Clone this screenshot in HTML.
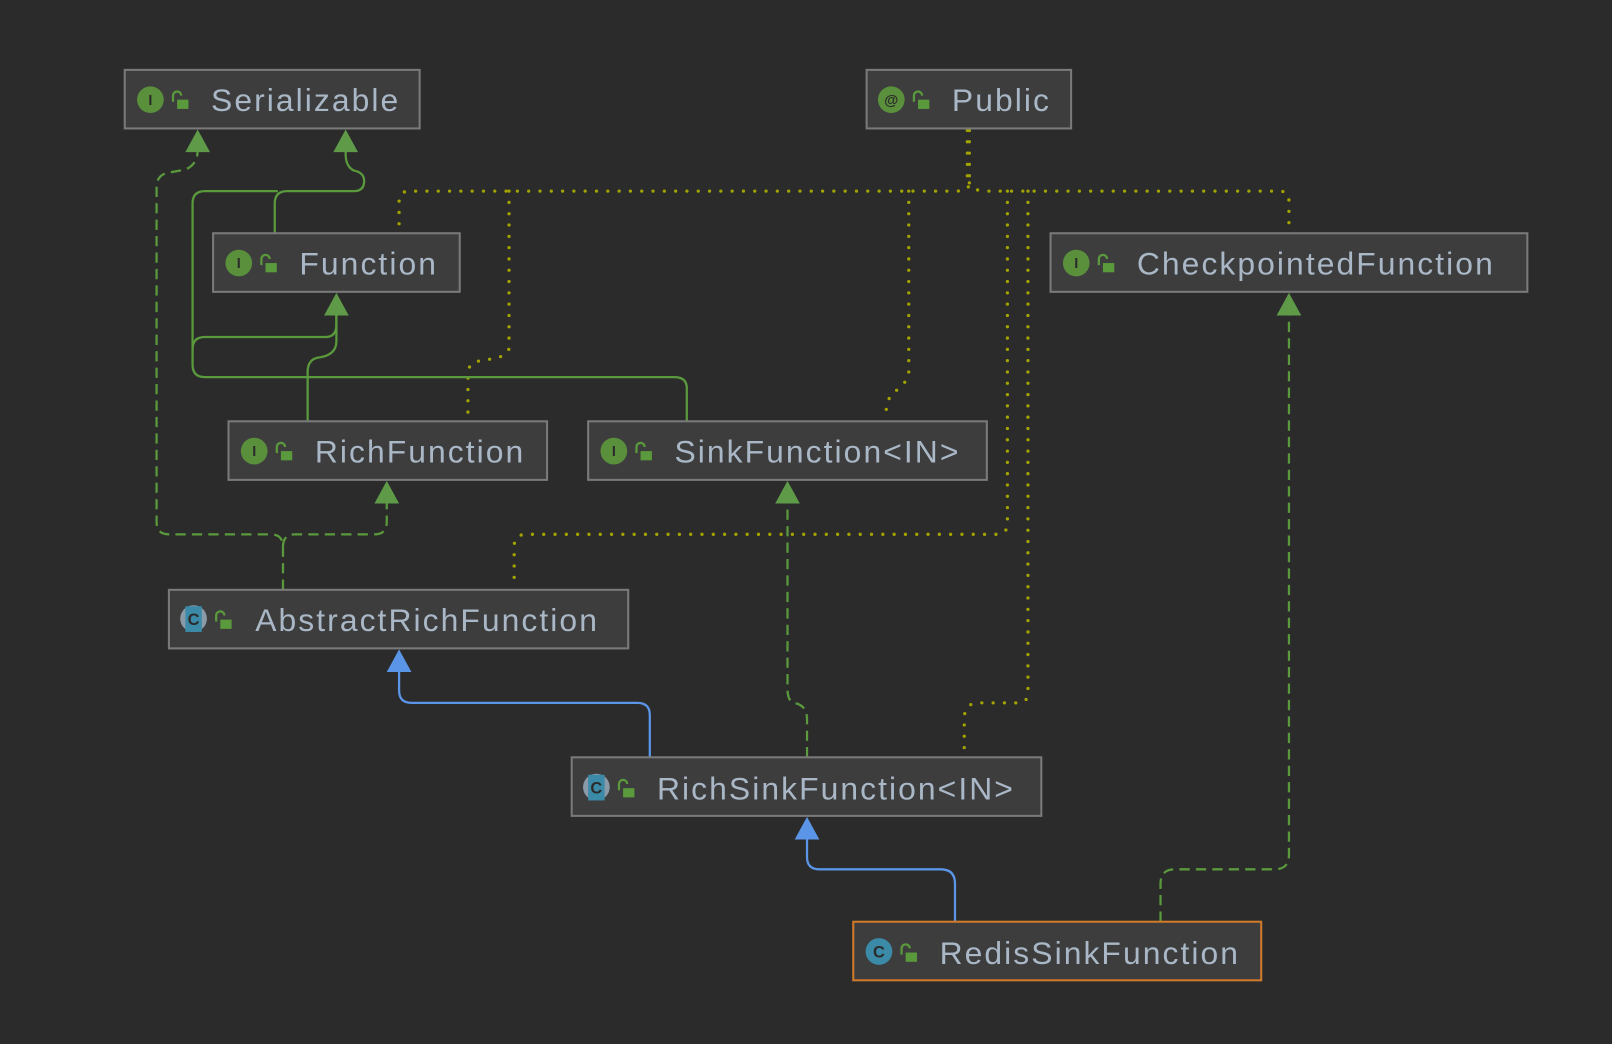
<!DOCTYPE html>
<html><head><meta charset="utf-8"><style>
html,body{margin:0;padding:0;background:#2b2b2b;}
svg{display:block}
text{font-family:"Liberation Sans",sans-serif;}
.lbl text{letter-spacing:2px}
</style></head><body>
<svg width="1612" height="1044" viewBox="0 0 1568 1016" xmlns="http://www.w3.org/2000/svg">
<rect width="1568" height="1016" fill="#2b2b2b"/>
<defs>
<g id="lock"><path d="M-6,2 v-6 a4,4 0 0 1 8,0" fill="none" stroke="#5a9a3c" stroke-width="2.2"/><rect x="-2" y="0" width="11" height="9" fill="#5a9a3c"/></g>
</defs>
<g fill="none" stroke="#a3a300" stroke-width="3.2" stroke-linecap="round" stroke-dasharray="0 11">
<path d="M943,127 V178 Q943,186 930,186 H398 Q388,186 388,196 V218"/>
<path d="M941,127 V178"/>
<path d="M943,178 Q946,186 960,186 H1245 Q1254,186 1254,196 V218"/>
<path d="M495,186 V338 Q495,346 480,349 L462,352 Q455,355 455,365 V402"/>
<path d="M884,186 V362 Q884,370 874,378 L866,386 Q862,392 862,402"/>
<path d="M980,186 V510 Q980,520 968,520 H512 Q500,520 500,532 V566"/>
<path d="M1000,186 V674 Q1000,684 990,684 H952 Q938,684 938,700 V728"/>
</g>
<g fill="none" stroke="#5a9a3c" stroke-width="2.2">
<path d="M267,227 V198 Q267,186 279,186 H344 Q354,186 354,176 Q354,168 344,166 Q336,162 336,150 V146"/>
<path d="M668,410 V378 Q668,367 656,367 H199 Q187,367 187,355 V198 Q187,186 199,186 H270"/>
<path d="M187,340 Q187,328 199,328 H316 Q327,328 327,316 V305"/>
<path d="M299,410 V362 Q299,350 309,348 Q327,346 327,332 V305"/>
</g>
<g fill="none" stroke="#5a9a3c" stroke-width="2.2" stroke-dasharray="10 6">
<path d="M275,574 V532 Q275,520 263,520 H164 Q152,520 152,508 V182 Q152,170 164,168 L180,165 Q192,160 192,146"/>
<path d="M275,532 Q275,520 287,520 H364 Q376,520 376,508 V488"/>
<path d="M785,737 V700 Q785,686 772,684 Q766,682 766,670 V488"/>
<path d="M1129,897 V860 Q1129,846 1143,846 H1240 Q1254,846 1254,832 V305"/>
</g>
<g fill="none" stroke="#5a95e8" stroke-width="2.2">
<path d="M632,737 V696 Q632,684 620,684 H400 Q388,684 388,672 V652"/>
<path d="M929,897 V860 Q929,846 915,846 H797 Q785,846 785,834 V815"/>
</g>
<g fill="#5f9a48">
<polygon points="192,126 180,148 204,148"/>
<polygon points="336,126 324,148 348,148"/>
<polygon points="327,285 315,307 339,307"/>
<polygon points="376,468 364,490 388,490"/>
<polygon points="766,468 754,490 778,490"/>
<polygon points="1254,285 1242,307 1266,307"/>
</g>
<g fill="#5a95e8">
<polygon points="388,632 376,654 400,654"/>
<polygon points="785,795 773,817 797,817"/>
</g>
<g font-size="31" fill="#a9b7c6">
<g stroke="#7a7a7a" stroke-width="2" fill="#3d3d3d">
<rect x="121" y="68" width="287" height="57"/>
<rect x="843" y="68" width="199" height="57"/>
<rect x="207" y="227" width="240" height="57"/>
<rect x="1022" y="227" width="464" height="57"/>
<rect x="222" y="410" width="310" height="57"/>
<rect x="572" y="410" width="388" height="57"/>
<rect x="164" y="574" width="447" height="57"/>
<rect x="556" y="737" width="457" height="57"/>
<rect x="830" y="897" width="397" height="57" stroke="#d07a2c"/>
</g>
<g font-size="14" font-weight="bold" text-anchor="middle">
<circle cx="146" cy="97" r="13" fill="#5a8f3c"/><text x="146" y="102" fill="#2b2b2b" font-family="Liberation Serif">I</text>
<circle cx="867" cy="97" r="13" fill="#5a8f3c"/><text x="867" y="102" fill="#2b2b2b">@</text>
<circle cx="232" cy="256" r="13" fill="#5a8f3c"/><text x="232" y="261" fill="#2b2b2b" font-family="Liberation Serif">I</text>
<circle cx="1047" cy="256" r="13" fill="#5a8f3c"/><text x="1047" y="261" fill="#2b2b2b" font-family="Liberation Serif">I</text>
<circle cx="247" cy="439" r="13" fill="#5a8f3c"/><text x="247" y="444" fill="#2b2b2b" font-family="Liberation Serif">I</text>
<circle cx="597" cy="439" r="13" fill="#5a8f3c"/><text x="597" y="444" fill="#2b2b2b" font-family="Liberation Serif">I</text>
<circle cx="188" cy="602" r="13" fill="#8a9aa8"/><rect x="180" y="590" width="16" height="25" fill="#3a8aa8"/><text x="188" y="608" fill="#2b2b2b" font-size="16">C</text>
<circle cx="580" cy="766" r="13" fill="#8a9aa8"/><rect x="572" y="754" width="16" height="25" fill="#3a8aa8"/><text x="580" y="772" fill="#2b2b2b" font-size="16">C</text>
<circle cx="855" cy="926" r="13" fill="#3a8aa8"/><text x="855" y="932" fill="#2b2b2b" font-size="16">C</text>
</g>
<use href="#lock" x="174" y="97"/>
<use href="#lock" x="895" y="97"/>
<use href="#lock" x="260" y="256"/>
<use href="#lock" x="1075" y="256"/>
<use href="#lock" x="275" y="439"/>
<use href="#lock" x="625" y="439"/>
<use href="#lock" x="216" y="603"/>
<use href="#lock" x="608" y="767"/>
<use href="#lock" x="883" y="927"/>
<g class="lbl">
<text x="205" y="108">Serializable</text>
<text x="926" y="108">Public</text>
<text x="291" y="267">Function</text>
<text x="1106" y="267">CheckpointedFunction</text>
<text x="306" y="450">RichFunction</text>
<text x="656" y="450">SinkFunction&lt;IN&gt;</text>
<text x="248" y="614">AbstractRichFunction</text>
<text x="639" y="778">RichSinkFunction&lt;IN&gt;</text>
<text x="914" y="938">RedisSinkFunction</text>
</g>
</g>
</svg>
</body></html>
